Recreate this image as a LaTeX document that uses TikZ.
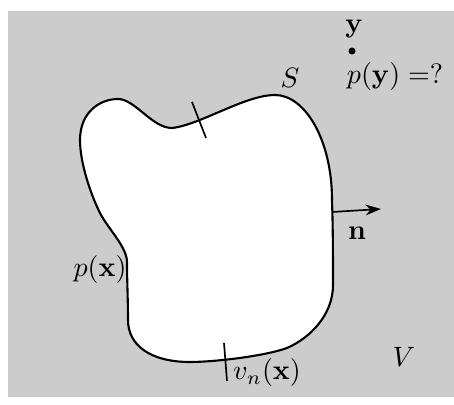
\documentclass[tikz,border=0pt]{standalone}
\usepackage{tikz}
\usetikzlibrary{arrows.meta, positioning}
\definecolor{bggray}{RGB}{204, 204, 204}

\begin{document}
\begin{tikzpicture}[
    x=0.357pt, y=-0.357pt,
    lbl/.style={inner sep=0pt},
    outline/.style={draw=black, fill=white, line width=0.75pt},
    tickmark/.style={draw=black, line width=0.6pt},
    arr/.style={-{Stealth[length=5.5pt, width=3.8pt]}, draw=black, line width=0.6pt},
    dot/.style={circle, fill=black, inner sep=0pt, minimum size=2.5pt}
]
\useasboundingbox (0,0) rectangle (454,405);

% =========== domain V (background) ===========
\fill[bggray] (8,11) rectangle (454,397);

% =========== surface S ===========
\draw[outline] (80,140)
    .. controls (80,112) and (100,99) .. (118,99)
    .. controls (135,99) and (152,128) .. (172,128)
    .. controls (200,125) and (245,95) .. (275,95)
    .. controls (305,95) and (332,140) .. (332,200)
    .. controls (333,230) and (333,260) .. (333,285)
    .. controls (333,315) and (310,338) .. (287,348)
    .. controls (265,356) and (215,362) .. (190,362)
    .. controls (150,362) and (128,345) .. (128,320)
    .. controls (128,300) and (127,280) .. (127,262)
    .. controls (127,247) and (107.5,228) .. (100,213)
    .. controls (90,193) and (80,162) .. cycle;

% ticks on the surface
\coordinate (tkA1) at (192,102);
\coordinate (tkA2) at (206,138);
\coordinate (tkB1) at (224,343);
\coordinate (tkB2) at (227,381);
\draw[tickmark] (tkA1) -- (tkA2);
\draw[tickmark] (tkB1) -- (tkB2);

% normal vector
\coordinate (nbase) at (332,212);
\coordinate (ntip)  at (381,209);
\draw[arr] (nbase) -- (ntip);

% =========== labels ===========
\node[dot] (ydot) at (352,51) {};
\node[lbl] (ylab)  at (354,29.5) {$\mathbf{y}$};
\node[lbl] (py)    at (395,77)   {$p(\mathbf{y}) =?$};
\node[lbl] (slab)  at (290,77.5) {$S$};
\node[lbl] (nlab)  at (357,233)  {$\mathbf{n}$};
\node[lbl] (px)    at (100,270)  {$p(\mathbf{x})$};
\node[lbl] (vn)    at (267,373)  {$v_n(\mathbf{x})$};
\node[lbl] (vlab)  at (404,357)  {$V$};

\end{tikzpicture}
\end{document}
